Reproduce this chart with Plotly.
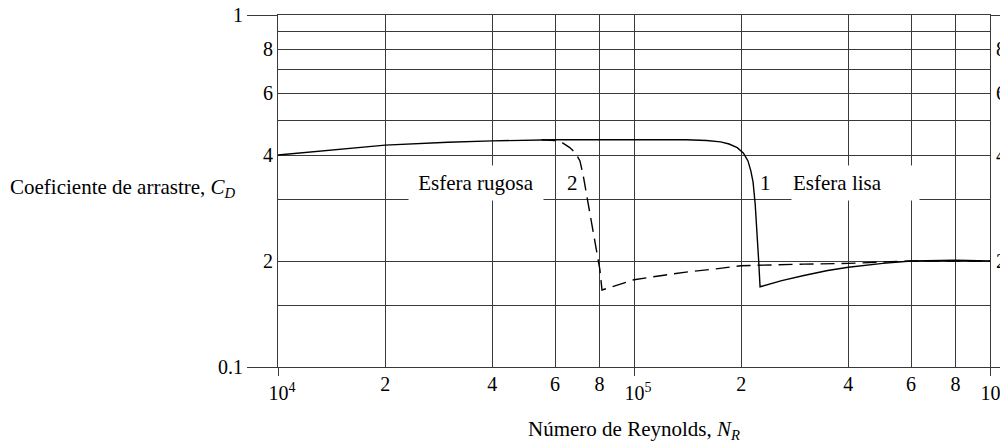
import plotly.graph_objects as go

# Curve 1: smooth sphere (solid)
re_smooth = [1e4, 1.5e4, 2e4, 3e4, 4e4, 6e4, 1e5, 1.4e5, 1.6e5, 1.75e5, 1.85e5, 1.95e5, 2.03e5, 2.09e5,
             2.13e5, 2.16e5, 2.19e5, 2.22e5, 2.24e5, 2.26e5, 2.6e5, 3e5, 3.5e5, 4e5, 5e5, 6e5, 8e5, 1e6]
cd_smooth = [0.40, 0.415, 0.427, 0.435, 0.439, 0.442, 0.443, 0.442, 0.44, 0.436, 0.43, 0.42, 0.405, 0.385,
             0.36, 0.335, 0.29, 0.24, 0.20, 0.169, 0.176, 0.182, 0.188, 0.192, 0.197, 0.200, 0.201, 0.200]

# Curve 2: rough sphere (dashed)
re_rough = [5.5e4, 6e4, 6.3e4, 6.6e4, 6.85e4, 7.05e4, 7.2e4, 7.38e4, 7.67e4, 8.02e4, 8.13e4,
            1e5, 1.2e5, 1.4e5, 1.7e5, 2e5, 3e5, 4e5, 6e5, 8e5, 1e6]
cd_rough = [0.442, 0.44, 0.433, 0.42, 0.405, 0.385, 0.35, 0.304, 0.245, 0.189, 0.1655,
            0.177, 0.182, 0.186, 0.19, 0.194, 0.196, 0.197, 0.2, 0.2, 0.2]

x_major = [1e4, 1e5, 1e6]
x_major_text = ["10<sup>4</sup>", "10<sup>5</sup>", "10<sup>6</sup>"]
x_minor = [2e4, 4e4, 6e4, 8e4, 2e5, 4e5, 6e5, 8e5]
x_minor_text = ["2", "4", "6", "8", "2", "4", "6", "8"]
y_major = [0.1, 1]
y_major_text = ["0.1", "1"]
y_grid = [0.15, 0.2, 0.3, 0.4, 0.5, 0.6, 0.7, 0.8, 0.9]
y_grid_text = ["", "2", "", "4", "", "6", "", "8", ""]

FONT = "Liberation Serif, Times New Roman, serif"
GRID = "#3a3a3a"
FS = 20
FS_TXT = 21

fig = go.Figure()
fig.add_trace(go.Scatter(x=re_smooth, y=cd_smooth, mode="lines", line=dict(color="black", width=1.4),
                         showlegend=False))
fig.add_trace(go.Scatter(x=re_rough, y=cd_rough, mode="lines",
                         line=dict(color="black", width=1.4, dash="14px,7px"),
                         showlegend=False))

tick_font = dict(family=FONT, size=FS, color="black")
txt_font = dict(family=FONT, size=FS_TXT, color="black")

# page body has an 8px margin: figure is 1000x440 and offset by 8px
fig.update_layout(
    width=1000, height=440,
    margin=dict(l=270, r=18, t=7, b=81, autoexpand=False),
    paper_bgcolor="white", plot_bgcolor="white",
    font=tick_font,
    xaxis=dict(type="log", range=[4, 6], tickvals=x_major, ticktext=x_major_text,
               ticks="outside", ticklen=8, tickcolor=GRID, showgrid=True, gridcolor=GRID,
               gridwidth=1, showline=True, linecolor=GRID, mirror=True, zeroline=False,
               tickfont=tick_font, automargin=False, ticklabelshift=4, ticklabeloverflow="allow"),
    xaxis2=dict(type="log", range=[4, 6], overlaying="x", anchor="y", side="bottom",
                tickvals=x_minor, ticktext=x_minor_text, ticks="", showgrid=True,
                gridcolor=GRID, gridwidth=1, showline=False, zeroline=False, tickfont=tick_font,
                automargin=False, ticklabelstandoff=3, ticklabeloverflow="allow"),
    yaxis=dict(type="log", range=[-1, 0], tickvals=y_major, ticktext=y_major_text,
               ticks="outside", ticklen=30, tickcolor=GRID, showgrid=True, gridcolor=GRID,
               gridwidth=1, showline=True, linecolor=GRID, mirror="ticks", zeroline=False,
               tickfont=tick_font, automargin=False, ticklabeloverflow="allow"),
    yaxis2=dict(type="log", range=[-1, 0], overlaying="y", anchor="x", side="left",
                tickvals=y_grid, ticktext=y_grid_text, ticks="", showgrid=True,
                gridcolor=GRID, gridwidth=1, showline=False, zeroline=False, tickfont=tick_font,
                automargin=False, ticklabelstandoff=4, ticklabeloverflow="allow"),
    yaxis3=dict(type="log", range=[-1, 0], overlaying="y", anchor="x", side="right",
                tickvals=y_grid, ticktext=y_grid_text, ticks="", showgrid=False,
                showline=False, zeroline=False, tickfont=tick_font, automargin=False,
                ticklabelstandoff=5, ticklabeloverflow="allow"),
)

# invisible traces so overlay axes render
fig.add_trace(go.Scatter(x=[1e4], y=[0.1], xaxis="x2", yaxis="y2", mode="markers",
                         marker=dict(opacity=0), showlegend=False, hoverinfo="skip"))
fig.add_trace(go.Scatter(x=[1e4], y=[0.1], xaxis="x", yaxis="y3", mode="markers",
                         marker=dict(opacity=0), showlegend=False, hoverinfo="skip"))

# text labels
fig.add_annotation(x=4.556, y=-0.477, xref="x", yref="y", text="Esfera rugosa", showarrow=False,
                   bgcolor="white", width=132, height=32, font=txt_font)
fig.add_annotation(x=4.826, y=-0.477, xref="x", yref="y", text="2", showarrow=False,
                   font=txt_font)
fig.add_annotation(x=5.368, y=-0.477, xref="x", yref="y", text="1", showarrow=False,
                   font=txt_font)
fig.add_annotation(x=5.44, y=-0.477, xref="x", yref="y", xanchor="left", text="Esfera lisa",
                   showarrow=False, align="left", bgcolor="white", width=125, height=32,
                   font=txt_font)

# axis titles
fig.add_annotation(x=-0.379, y=0.509, xref="paper", yref="paper", xanchor="left", yanchor="middle",
                   text="Coeficiente de arrastre, <i>C<sub>D</sub></i>", showarrow=False,
                   font=txt_font)
fig.add_annotation(x=0.5, y=-0.179, xref="paper", yref="paper", xanchor="center", yanchor="middle",
                   text="Número de Reynolds, <i>N<sub>R</sub></i>", showarrow=False,
                   font=txt_font)

fig.write_html("out.html")
